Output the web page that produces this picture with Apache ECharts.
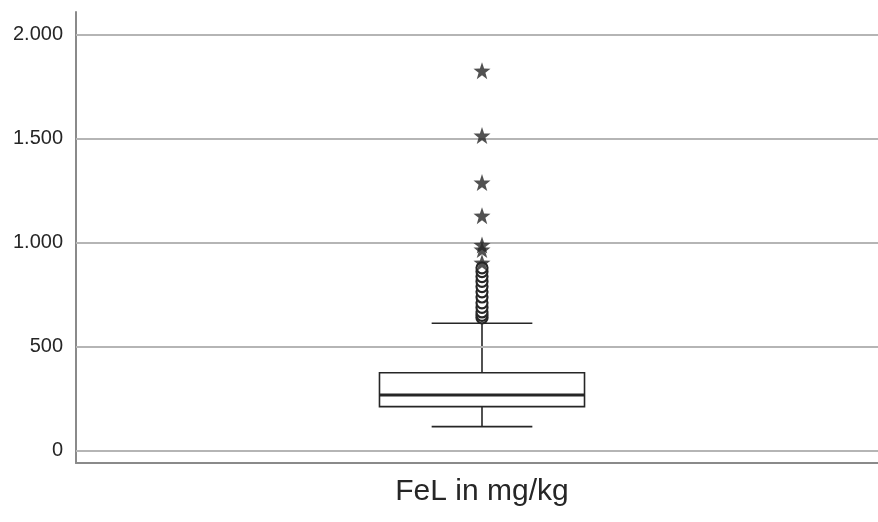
<!DOCTYPE html>
<html>
<head>
<meta charset="utf-8">
<script src="https://cdn.jsdelivr.net/npm/echarts@6/dist/echarts.min.js"></script>
<style>
  html, body { margin: 0; padding: 0; background: #ffffff; }
  #chart { width: 878px; height: 522px; }
</style>
</head>
<body>
<div id="chart"></div>
<script>
// Box plot of iron content (FeL) in mg/kg
const categories = ['FeL in mg/kg'];
// [lower whisker, Q1, median, Q3, upper whisker]
const boxStats = [117, 213, 269, 376, 614];
// mild outliers (circles) and extreme outliers (stars)
const circleOutliers = [640, 652, 668, 690, 712, 740, 765, 790, 815, 838, 862, 880];
const starOutliers = [905, 968, 990, 1131, 1290, 1516, 1828];
const yTicks = [0, 500, 1000, 1500, 2000];
const yMin = -58;
const yMax = 2110;

const FONT = "'Liberation Sans', Arial, sans-serif";
const INK = '#262626';

const starPath = 'path://M0,-10 L2.35,-3.24 L9.51,-3.09 L3.8,1.24 L5.88,8.09 L0,4 L-5.88,8.09 L-3.8,1.24 L-9.51,-3.09 L-2.35,-3.24 Z';

function fmtThousands(v) {
  return String(v).replace(/\B(?=(\d{3})+(?!\d))/g, '.');
}

function renderBox(params, api) {
  const x = api.value(0);
  const low = api.coord([x, api.value(1)]);
  const q1 = api.coord([x, api.value(2)]);
  const med = api.coord([x, api.value(3)]);
  const q3 = api.coord([x, api.value(4)]);
  const high = api.coord([x, api.value(5)]);
  const band = api.size([1, 0])[0];
  const boxW = band * 0.2525;
  const capW = band * 0.124;
  const cx = low[0];
  const line = { stroke: INK, lineWidth: 1.6 };
  return {
    type: 'group',
    children: [
      { type: 'line', shape: { x1: cx, y1: q3[1], x2: cx, y2: high[1] }, style: line },
      { type: 'line', shape: { x1: cx, y1: q1[1], x2: cx, y2: low[1] }, style: line },
      { type: 'line', shape: { x1: cx - capW / 2, y1: high[1], x2: cx + capW / 2, y2: high[1] }, style: line },
      { type: 'line', shape: { x1: cx - capW / 2, y1: low[1], x2: cx + capW / 2, y2: low[1] }, style: line },
      { type: 'rect', shape: { x: cx - boxW / 2, y: q3[1], width: boxW, height: q1[1] - q3[1] },
        style: { fill: '#ffffff', stroke: INK, lineWidth: 1.6 } },
      { type: 'line', shape: { x1: cx - boxW / 2, y1: med[1], x2: cx + boxW / 2, y2: med[1] },
        style: { stroke: INK, lineWidth: 3.2 } }
    ]
  };
}

const chart = echarts.init(document.getElementById('chart'), null, { renderer: 'canvas' });
chart.setOption({
  backgroundColor: '#ffffff',
  animation: false,
  grid: { left: 76, width: 812, top: 12, bottom: 59, containLabel: false, outerBoundsMode: 'none' },
  xAxis: {
    type: 'category',
    data: categories,
    axisLine: { show: true, onZero: false, lineStyle: { color: '#8a8a8a', width: 2 } },
    axisTick: { show: false },
    axisLabel: { fontFamily: FONT, fontSize: 30, color: INK, margin: 14 },
    splitLine: { show: false }
  },
  yAxis: {
    type: 'value',
    min: yMin,
    max: yMax,
    axisLine: { show: true, lineStyle: { color: '#8a8a8a', width: 2 } },
    axisTick: { show: false },
    splitLine: { show: false },
    axisLabel: {
      customValues: yTicks,
      fontFamily: FONT, fontSize: 20, color: INK, margin: 13,
      formatter: v => fmtThousands(v)
    }
  },
  series: [
    {
      // horizontal grid lines at the labelled values
      type: 'scatter',
      data: [],
      z: 1,
      silent: true,
      markLine: {
        silent: true,
        symbol: ['none', 'none'],
        label: { show: false },
        lineStyle: { color: '#b5b5b5', width: 2, type: 'solid' },
        data: yTicks.map(v => ({ yAxis: v }))
      }
    },
    {
      type: 'custom',
      z: 3,
      renderItem: renderBox,
      encode: { x: 0, y: [1, 2, 3, 4, 5] },
      data: [[0].concat(boxStats)]
    },
    {
      type: 'scatter',
      z: 4,
      symbol: 'circle',
      symbolSize: 11,
      itemStyle: { color: '#ffffff', borderColor: INK, borderWidth: 2.2, opacity: 1 },
      data: circleOutliers.map(v => [0, v])
    },
    {
      type: 'scatter',
      z: 5,
      symbol: starPath,
      symbolSize: 17,
      itemStyle: { color: INK },
      data: starOutliers.map(v => [0, v])
    }
  ]
});
</script>
</body>
</html>
